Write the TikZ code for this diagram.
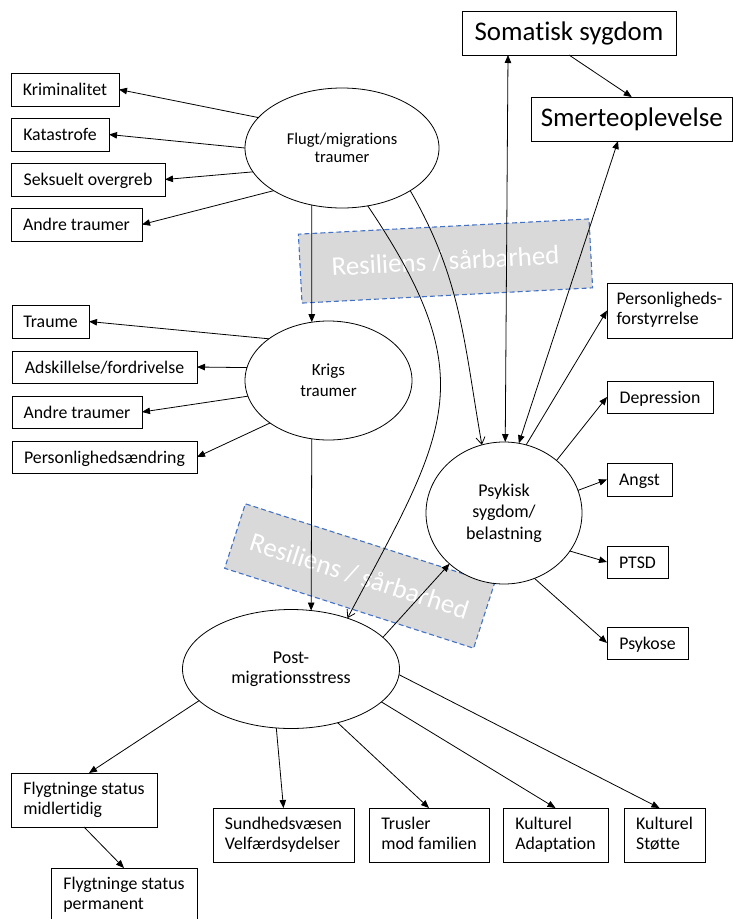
\documentclass[tikz,border=0pt]{standalone}
\usepackage{fontspec}
\setmainfont[Ligatures=NoCommon]{Carlito}
\usetikzlibrary{arrows.meta,shapes.geometric,calc}
\definecolor{resfill}{HTML}{D9D9D9}
\definecolor{resline}{HTML}{4472C4}

\begin{document}
\begin{tikzpicture}[x=1pt,y=-1pt,
  every node/.style={inner sep=0pt, outer sep=0pt},
  tip/.tip={Triangle[length=8pt,width=6.5pt]},
  link/.style={line width=0.8pt, -tip},
  both/.style={line width=0.8pt, tip-tip},
  openlink/.style={line width=0.8pt, -{Straight Barb[length=7pt,width=9pt]}},
  oval/.style={draw, line width=0.8pt, ellipse, fill=white, align=center},
  box/.style={draw, line width=0.9pt, rectangle, fill=white,
    font=\fontsize{17.8}{20}\selectfont},
  onebox/.style={box, text height=12.5pt, text depth=0.5pt},
  twobox/.style={box, align=left},
  bigbox/.style={draw, line width=0.9pt, rectangle, fill=white,
    font=\fontsize{26.9}{30}\selectfont, text height=17pt, text depth=1.6pt},
  resil/.style={draw=resline, fill=resfill, line width=1.1pt,
    dash pattern=on 5pt off 3pt, text=white,
    font=\fontsize{26.9}{30}\selectfont},
]
\useasboundingbox (0,0) rectangle (733,919);
\clip (0,0) rectangle (733,919);

% resilience bands (behind everything else)
\node[resil, rotate=3, minimum width=291, minimum height=69]
  (res1) at (445.5,261) {Resiliens / sårbarhed};
\node[resil, rotate=-17.8, minimum width=261.5, minimum height=67.7]
  (res2) at (359.5,576) {Resiliens / sårbarhed};

% central ovals
\node[oval, minimum width=194, minimum height=120,
  font=\fontsize{16.5}{17.5}\selectfont] (flugt) at (342,148)
  {Flugt/migrations\\traumer};
\node[oval, minimum width=167, minimum height=119,
  font=\fontsize{17}{21}\selectfont] (krigs) at (328.5,380.5)
  {Krigs\\traumer};
\node[oval, minimum width=156, minimum height=142,
  font=\fontsize{18}{21.5}\selectfont] (psyk) at (504,513)
  {Psykisk\\sygdom/\\belastning};
\node[oval, minimum width=217, minimum height=119,
  font=\fontsize{18}{20}\selectfont] (post) at (291,669)
  {Post-\\migrationsstress};

% trauma types
\node[onebox, minimum width=108, minimum height=33] (krim) at (65,89.5) {Kriminalitet};
\node[onebox, minimum width=98, minimum height=33] (kata) at (60,134.5) {Katastrofe};
\node[onebox, minimum width=154, minimum height=33] (seks) at (88,179.5) {Seksuelt overgreb};
\node[onebox, minimum width=131, minimum height=33] (andreA) at (76.5,224.5) {Andre traumer};
\node[onebox, minimum width=77, minimum height=33] (traume) at (50.5,321.5) {Traume};
\node[onebox, minimum width=185, minimum height=32] (adsk) at (104.5,367) {Adskillelse/fordrivelse};
\node[onebox, minimum width=130, minimum height=32] (andreB) at (77,412) {Andre traumer};
\node[onebox, minimum width=185, minimum height=32] (pers) at (104.5,457) {Personlighedsændring};

% outcomes
\node[bigbox, minimum width=214, minimum height=44] (soma) at (569,33) {Somatisk sygdom};
\node[bigbox, minimum width=201.5, minimum height=44] (smer) at (631.75,119) {Smerteoplevelse};
\node[twobox, minimum width=125, minimum height=55] (persf) at (669.5,310.5) {\strut Personligheds-\\forstyrrelse\strut};
\node[onebox, minimum width=106, minimum height=32] (depr) at (660,397) {Depression};
\node[onebox, minimum width=65, minimum height=33] (angst) at (639.5,479.5) {Angst};
\node[onebox, minimum width=61, minimum height=32] (ptsd) at (637.5,562) {PTSD};
\node[onebox, minimum width=81, minimum height=32] (psykose) at (647.5,643) {Psykose};

% post-migration factors
\node[twobox, minimum width=146, minimum height=54] (midl) at (84,800) {\strut Flygtninge status\\midlertidig\strut};
\node[twobox, minimum width=146, minimum height=54] (perm) at (124,895) {\strut Flygtninge status\\permanent\strut};
\node[twobox, minimum width=141, minimum height=54] (sund) at (283.5,835) {\strut Sundhedsvæsen\\Velfærdsydelser\strut};
\node[twobox, minimum width=120, minimum height=54] (trus) at (429,835) {\strut Trusler\\mod familien\strut};
\node[twobox, minimum width=105, minimum height=54] (kada) at (555.5,835) {\strut Kulturel\\Adaptation\strut};
\node[twobox, minimum width=81, minimum height=54] (kst) at (664.5,835) {\strut Kulturel\\Støtte\strut};

% connectors from the flight/migration oval
\draw[link] (flugt.160) -- (krim.east);
\draw[link] (flugt.180) -- (kata.east);
\draw[link] (flugt.195) -- (seks.east);
\draw[link] (flugt.212) -- (andreA.east);
\draw[link] (flugt.242) -- (krigs.106);
\draw[openlink] (flugt.328) to[out=-60,in=100] (psyk.108);
\draw[openlink] (flugt.294) .. controls +(-56:211pt) and +(62:211pt) .. (post.42);

% connectors from the war oval
\draw[link] (krigs.145) -- (traume.east);
\draw[link] (krigs.171) -- (adsk.east);
\draw[link] (krigs.191) -- (andreB.east);
\draw[link] (krigs.216) -- (pers.east);
\draw[link] (krigs.254) -- (post.71);

% connectors around the mental illness circle
\draw[both] ($(soma.south west)+(46,0)$) -- (psyk.89);
\draw[both] ($(smer.south west)+(87,0)$) -- (psyk.78);
\draw[link] (soma.south) -- (smer.north);
\draw[link] (psyk.72) -- (persf.west);
\draw[link] (psyk.45) -- (depr.west);
\draw[link] (psyk.17) -- (angst.west);
\draw[link] (psyk.330) -- (ptsd.west);
\draw[link] (psyk.295) -- (psykose.west);

% connectors from the post-migration oval
\draw[link] (post.19) -- (psyk.223);
\draw[link] (post.199) -- ($(midl.north)+(5,0)$);
\draw[link] (post.256) -- (sund.north);
\draw[link] (post.311) -- (trus.north);
\draw[link] (post.340) -- (kada.north);
\draw[link] (post.357) -- ($(kst.north)+(-5,0)$);
\draw[link] (midl.south) -- (perm.north);
\end{tikzpicture}
\end{document}
